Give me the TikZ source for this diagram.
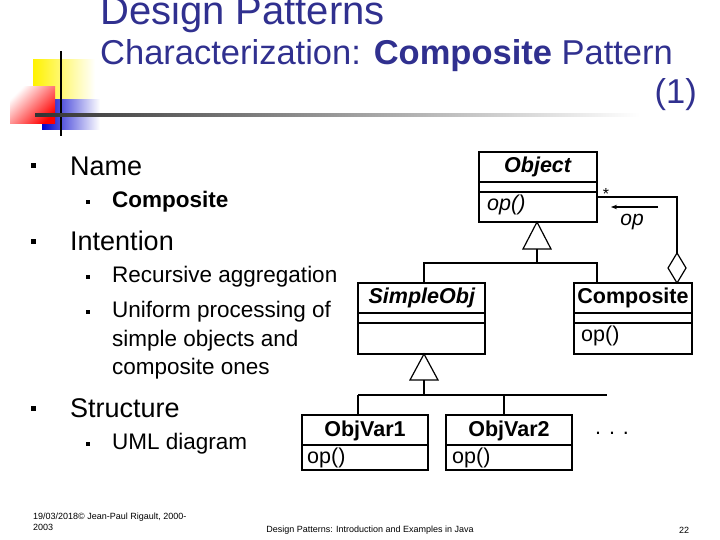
\documentclass[tikz,border=0pt]{standalone}
\usepackage{fontspec}
\setmainfont{Liberation Sans}
\usetikzlibrary{arrows.meta}
\definecolor{ttl}{HTML}{30308F}
\begin{document}
\begin{tikzpicture}[x=1pt,y=-1pt,
  box/.style={draw,line width=1.2pt},
  ln/.style={line width=1.2pt},
  bul/.style={fill,minimum size=5pt,inner sep=0pt},
  t26/.style={font=\fontsize{27}{30}\selectfont,anchor=west,inner sep=0pt},
  t20/.style={font=\fontsize{22.5}{26}\selectfont,anchor=west,inner sep=0pt},
  cls/.style={font=\fontsize{21.5}{24}\selectfont,inner sep=0pt}]
\useasboundingbox (0,0) rectangle (720,540);
% decoration
\shade[left color=yellow!90!orange, right color=white] (33,60) rectangle (95,105);
\shade[left color=blue!80!black, right color=white] (42,100) rectangle (100,130);
\shade[top color=white, bottom color=red, shading angle=45] (10,87) rectangle (55,124);
\draw[line width=1.3pt] (61,51) -- (61,136);
\shade[left color=black!80, right color=white] (35,114) rectangle (640,117);
% title
\node[anchor=west,inner sep=0pt,text=ttl,font=\fontsize{40}{44}\selectfont] (t1) at (100,14) {Design Patterns};
\node[anchor=west,inner sep=0pt,text=ttl,font=\fontsize{34.5}{38}\selectfont] (t2) at (100,56) {Characterization: \textbf{Composite} Pattern};
\node[anchor=east,inner sep=0pt,text=ttl,font=\fontsize{34.5}{38}\selectfont] (t3) at (697,95) {(1)};
% bullets
\node[bul] (b1) at (33,166) {}; \node[t26] (n1) at (70,166) {Name};
\node[bul,minimum size=4pt] (b2) at (88,202) {}; \node[t20] (n2) at (112,202) {\textbf{Composite}};
\node[bul] (b3) at (33,241) {}; \node[t26] (n3) at (70,241) {Intention};
\node[bul,minimum size=4pt] (b4) at (88,277) {}; \node[t20] (n4) at (112,277) {Recursive aggregation};
\node[bul,minimum size=4pt] (b5) at (88,312) {}; \node[t20] (n5) at (112,312) {Uniform processing of};
\node[t20] (n6) at (112,341) {simple objects and};
\node[t20] (n7) at (112,369) {composite ones};
\node[bul] (b6) at (33,408) {}; \node[t26] (n8) at (70,408) {Structure};
\node[bul,minimum size=4pt] (b7) at (88,444) {}; \node[t20] (n9) at (112,444) {UML diagram};
% UML boxes
\draw[box] (479,152) rectangle (597,222); \draw[ln] (479,182)--(597,182) (479,192)--(597,192);
\node[cls] (obj) at (538,167) {\textbf{\itshape Object}};
\node[cls,anchor=west] (objop) at (487,205) {\itshape op()};
\draw[box] (358,283) rectangle (485,354); \draw[ln] (358,313)--(485,313) (358,323)--(485,323);
\node[cls] (so) at (422,298) {\textbf{\itshape SimpleObj}};
\draw[box] (574,283) rectangle (692,354); \draw[ln] (574,313)--(692,313) (574,323)--(692,323);
\node[cls] (comp) at (633,298) {\textbf{Composite}};
\node[cls,anchor=west] (compop) at (581,336) {op()};
\draw[box] (302,415) rectangle (428,470); \draw[ln] (302,445)--(428,445);
\node[cls] (v1) at (365,431) {\textbf{ObjVar1}};
\node[cls,anchor=west] (v1op) at (307,458) {op()};
\draw[box] (446,415) rectangle (572,470); \draw[ln] (446,445)--(572,445);
\node[cls] (v2) at (509,431) {\textbf{ObjVar2}};
\node[cls,anchor=west] (v2op) at (452,458) {op()};
\node[cls] (dots) at (612,433) {. . .};
% generalization
\draw[ln,fill=white] (537,222) -- (551,249) -- (523,249) -- cycle;
\draw[ln] (537,249)--(537,263) (424,283)--(424,263)--(597,263)--(597,283);
\draw[ln,fill=white] (424,354) -- (438,380) -- (410,380) -- cycle;
\draw[ln] (424,380)--(424,395) (358,395)--(607,395) (358,395)--(358,415) (504,395)--(504,415);
% aggregation
\draw[ln,fill=white] (677,283)--(686,268)--(677,253)--(668,268)--cycle;
\draw[ln] (677,253)--(677,197)--(597,197);
\node[font=\fontsize{16}{18}\selectfont] (star) at (606,194) {*};
\draw[ln,-{Stealth[length=6pt]}] (658,207)--(611,207);
\node[cls,font=\fontsize{21}{24}\selectfont\itshape] (opl) at (632,222) {op};
% footer
\node[anchor=west,inner sep=0pt,font=\fontsize{9}{11}\selectfont,align=left] (f1) at (33,522) {19/03/2018© Jean-Paul Rigault, 2000-\\2003};
\node[inner sep=0pt,font=\fontsize{9}{11}\selectfont] (f2) at (370,530) {Design Patterns: Introduction and Examples in Java};
\node[inner sep=0pt,font=\fontsize{9}{11}\selectfont] (f3) at (684,530) {22};
\end{tikzpicture}
\end{document}
